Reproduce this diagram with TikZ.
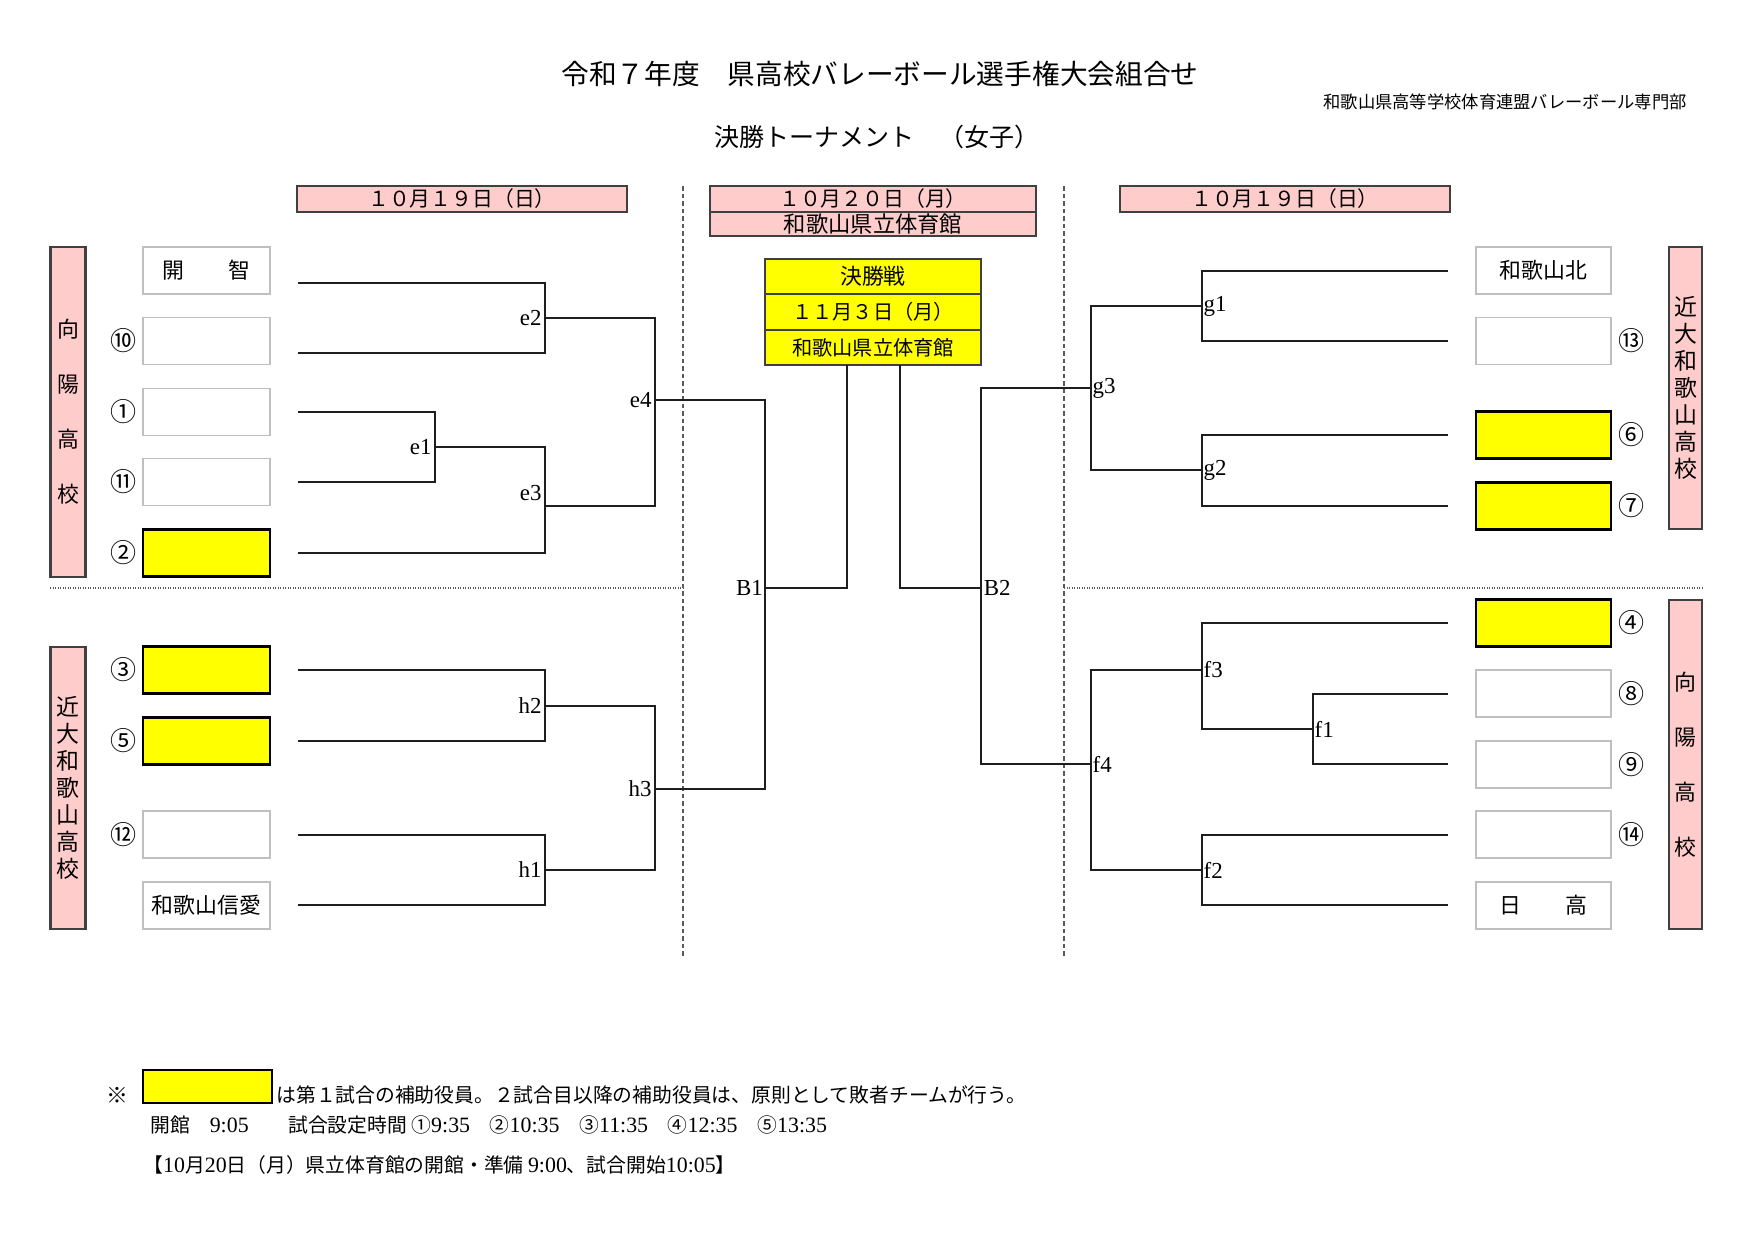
\documentclass[tikz,border=0pt]{standalone}
\usepackage{fontspec}
\setmainfont{Liberation Serif}
\newfontfamily\jp{Noto Sans CJK JP}
\definecolor{pinkf}{RGB}{255,204,204}
\definecolor{yelf}{RGB}{255,255,0}
\definecolor{boxgray}{RGB}{191,191,191}
\definecolor{edge}{RGB}{64,64,64}
\definecolor{linec}{RGB}{30,30,30}
\definecolor{dashc}{RGB}{90,90,90}
\begin{document}
\begin{tikzpicture}[x=0.48pt,y=-0.48pt,
  teambox/.style={draw=boxgray,line width=0.6pt,fill=white,minimum width={#1*0.48pt},minimum height={47*0.48pt},inner sep=0pt,font=\jp\fontsize{10.5}{12}\selectfont},
  teambox/.default=127,
  yelbox/.style={teambox=#1,draw=black,fill=yelf,line width=1.4pt},
  yelbox/.default=127,
  pinkv/.style 2 args={draw=edge,line width=1pt,fill=pinkf,minimum width={#1*0.48pt},minimum height={#2*0.48pt},inner sep=0pt,align=center},
  datebox/.style={draw=edge,line width=0.9pt,fill=pinkf,minimum width={330*0.48pt},minimum height={26*0.48pt},inner sep=0pt,font=\jp\fontsize{10}{12}\selectfont},
  finbox/.style={draw=edge,line width=0.9pt,fill=yelf,minimum width={216*0.48pt},minimum height={35.3*0.48pt},inner sep=0pt,font=\jp\fontsize{9.7}{12}\selectfont},
  cnum/.style={font=\jp\fontsize{12.5}{14}\selectfont,inner sep=0pt},
  lbl/.style={font=\fontsize{11}{13}\selectfont,inner sep=1.5pt},
  rlbl/.style={font=\fontsize{11}{13}\selectfont,inner sep=0.6pt,anchor=west},
  brk/.style={draw=linec,line width=0.75pt},
  vdash/.style={draw=dashc,line width=0.6pt,dash pattern=on 2.2pt off 1.4pt},
  hdot/.style={draw=dashc,line width=0.6pt,dash pattern=on 0.6pt off 0.6pt},
  note/.style={font=\fontsize{9.5}{11}\selectfont,inner sep=0pt,anchor=west},
  lat/.style={}
]
\fill[white] (0,0) rectangle (1755,1241);
\useasboundingbox (0,0) rectangle (1755,1241);

% headings
\node[font=\jp\fontsize{13.3}{15}\selectfont,inner sep=0pt] (title) at (880,74) {令和７年度　県高校バレーボール選手権大会組合せ};
\node[font=\jp\fontsize{8.3}{10}\selectfont,inner sep=0pt,anchor=east] (org) at (1687,102) {和歌山県高等学校体育連盟バレーボール専門部};
\node[font=\jp\fontsize{12}{14}\selectfont,inner sep=0pt] (sub) at (877,137) {決勝トーナメント　（女子）};

% date boxes
\node[datebox] (d1) at (462,199) {１０月１９日（日）};
\node[datebox,minimum width={326*0.48pt}] (d2) at (873,199) {１０月２０日（月）};
\node[datebox,minimum width={326*0.48pt},minimum height={24*0.48pt},font=\jp\fontsize{10.7}{12}\selectfont] (d2b) at (873,224) {和歌山県立体育館};
\node[datebox] (d3) at (1285,199) {１０月１９日（日）};

% dashed separators
\coordinate (v1t) at (683,186); \coordinate (v1b) at (683,957);
\coordinate (v2t) at (1064,186); \coordinate (v2b) at (1064,957);
\coordinate (hla) at (50,588); \coordinate (hlb) at (683,588);
\coordinate (hra) at (1064,588); \coordinate (hrb) at (1702,588);
\draw[vdash] (v1t) -- (v1b);
\draw[vdash] (v2t) -- (v2b);
\draw[hdot] (hla) -- (hlb);
\draw[hdot] (hra) -- (hrb);

% final box
\node[finbox,font=\jp\fontsize{10.5}{12}\selectfont] (fa) at (873,276.6) {決勝戦};
\node[finbox] (fb) at (873,312) {１１月３日（月）};
\node[finbox] (fc) at (873,347.4) {和歌山県立体育館};

% pink school boxes
\node[pinkv={35}{330},font=\jp\fontsize{10.5}{26.4}\selectfont] (pl1) at (68,412) {向\\陽\\高\\校};
\node[pinkv={35}{282},font=\jp\fontsize{11}{13}\selectfont] (pl2) at (68,788) {近\\大\\和\\歌\\山\\高\\校};
\node[pinkv={33}{282},font=\jp\fontsize{11}{13}\selectfont] (pr1) at (1685.5,388) {近\\大\\和\\歌\\山\\高\\校};
\node[pinkv={33}{329},font=\jp\fontsize{10.5}{26.4}\selectfont] (pr2) at (1685.5,764.5) {向\\陽\\高\\校};

% left teams
\node[teambox] (lA) at (206.5,270.5) {開　　智};
\node[teambox] (lB) at (206.5,341) {};
\node[teambox] (lC) at (206.5,412) {};
\node[teambox] (lD) at (206.5,482) {};
\node[yelbox] (lE) at (206.5,553) {};
\node[yelbox] (lF) at (206.5,670) {};
\node[yelbox] (lG) at (206.5,741) {};
\node[teambox] (lH) at (206.5,834.5) {};
\node[teambox] (lI) at (206.5,905.5) {和歌山信愛};

\node[cnum] (cl10) at (124,341) {⑩};
\node[cnum] (cl1) at (124,412) {①};
\node[cnum] (cl11) at (124,482) {⑪};
\node[cnum] (cl2) at (124,553) {②};
\node[cnum] (cl3) at (124,670) {③};
\node[cnum] (cl5) at (124,741) {⑤};
\node[cnum] (cl12) at (124,834.5) {⑫};

% right teams
\node[teambox=135] (rA) at (1543.5,270.5) {和歌山北};
\node[teambox=135] (rB) at (1543.5,341) {};
\node[yelbox=135] (rC) at (1543.5,435) {};
\node[yelbox=135] (rD) at (1543.5,506) {};
\node[yelbox=135] (rE) at (1543.5,623) {};
\node[teambox=135] (rF) at (1543.5,693.5) {};
\node[teambox=135] (rG) at (1543.5,764.5) {};
\node[teambox=135] (rH) at (1543.5,834.5) {};
\node[teambox=135] (rI) at (1543.5,905.5) {日　　高};

\node[cnum] (cr13) at (1632,341) {⑬};
\node[cnum] (cr6) at (1632,435) {⑥};
\node[cnum] (cr7) at (1632,506) {⑦};
\node[cnum] (cr4) at (1632,623) {④};
\node[cnum] (cr8) at (1632,693.5) {⑧};
\node[cnum] (cr9) at (1632,764.5) {⑨};
\node[cnum] (cr14) at (1632,834.5) {⑭};

% left bracket coordinates
\coordinate (la1) at (298,283);
\coordinate (la2) at (298,353);
\coordinate (la3) at (298,412);
\coordinate (la4) at (298,482);
\coordinate (la5) at (298,553);
\coordinate (la6) at (298,670);
\coordinate (la7) at (298,741);
\coordinate (la8) at (298,835);
\coordinate (la9) at (298,905);
\coordinate (e1) at (435,447);
\coordinate (e2) at (545,318);
\coordinate (e3) at (545,506);
\coordinate (e4) at (655,400);
\coordinate (h2) at (545,706);
\coordinate (h1) at (545,870);
\coordinate (h3) at (655,789);
\coordinate (B1) at (765,588);
\coordinate (fl) at (847,365);

\draw[brk] (la1) -| (e2) |- (la2);
\draw[brk] (la3) -| (e1) |- (la4);
\draw[brk] (e1) -| (e3) |- (la5);
\draw[brk] (e2) -| (e4) |- (e3);
\draw[brk] (la6) -| (h2) |- (la7);
\draw[brk] (la8) -| (h1) |- (la9);
\draw[brk] (h2) -| (h3) |- (h1);
\draw[brk] (e4) -| (B1) |- (h3);
\draw[brk] (B1) -| (fl);

\node[lbl,anchor=east] (le1) at (e1) {e1};
\node[lbl,anchor=east] (le2) at (e2) {e2};
\node[lbl,anchor=east] (le3) at ([yshift=6.2pt]e3) {e3};
\node[lbl,anchor=east] (le4) at (e4) {e4};
\node[lbl,anchor=east] (lh1) at (h1) {h1};
\node[lbl,anchor=east] (lh2) at (h2) {h2};
\node[lbl,anchor=east] (lh3) at (h3) {h3};
\node[lbl,anchor=east,inner sep=0.8pt] (lB1) at (B1) {B1};

% right bracket coordinates
\coordinate (ra1) at (1448,271);
\coordinate (ra2) at (1448,341);
\coordinate (ra3) at (1448,435);
\coordinate (ra4) at (1448,506);
\coordinate (ra5) at (1448,623);
\coordinate (ra6) at (1448,694);
\coordinate (ra7) at (1448,764);
\coordinate (ra8) at (1448,835);
\coordinate (ra9) at (1448,905);
\coordinate (g1) at (1202,306);
\coordinate (g2) at (1202,470);
\coordinate (g3) at (1091,388);
\coordinate (f1) at (1313,729);
\coordinate (f3) at (1202,670);
\coordinate (f2) at (1202,870);
\coordinate (f4) at (1091,764);
\coordinate (B2) at (981,588);
\coordinate (fr) at (900,365);

\draw[brk] (ra1) -| (g1) |- (ra2);
\draw[brk] (ra3) -| (g2) |- (ra4);
\draw[brk] (g1) -| (g3) |- (g2);
\draw[brk] (ra6) -| (f1) |- (ra7);
\draw[brk] (ra5) -| (f3) |- (f1);
\draw[brk] (ra8) -| (f2) |- (ra9);
\draw[brk] (f3) -| (f4) |- (f2);
\draw[brk] (g3) -| (B2) |- (f4);
\draw[brk] (B2) -| (fr);

\node[rlbl] (lg1) at (g1) {g1};
\node[rlbl] (lg2) at (g2) {g2};
\node[rlbl] (lg3) at (g3) {g3};
\node[rlbl] (lf1) at (f1) {f1};
\node[rlbl] (lf2) at (f2) {f2};
\node[rlbl] (lf3) at (f3) {f3};
\node[rlbl] (lf4) at (f4) {f4};
\node[rlbl,inner sep=1.2pt] (lB2) at (B2) {B2};

% notes
\node[font=\jp\fontsize{10.5}{12}\selectfont,inner sep=0pt] (kome) at (117,1095) {※};
\node[yelbox=129,minimum height={33*0.48pt}] (leg) at (207.5,1086.5) {};
\node[note] (n1) at (276,1095) {\jp は第１試合の補助役員。２試合目以降の補助役員は、原則として敗者チームが行う。};
\node[note] (n2) at (150,1125) {{\jp 開館　}{\fontsize{10.5}{11}\selectfont 9:05}{\jp 　　試合設定時間 ①}{\fontsize{10.5}{11}\selectfont 9:35}{\jp 　②}{\fontsize{10.5}{11}\selectfont 10:35}{\jp 　③}{\fontsize{10.5}{11}\selectfont 11:35}{\jp 　④}{\fontsize{10.5}{11}\selectfont 12:35}{\jp 　⑤}{\fontsize{10.5}{11}\selectfont 13:35}};
\node[note] (n3) at (143,1165) {{\jp 【}{\fontsize{10.5}{11}\selectfont 10}{\jp 月}{\fontsize{10.5}{11}\selectfont 20}{\jp 日（月）県立体育館の開館・準備 }{\fontsize{10.5}{11}\selectfont 9:00}{\jp 、試合開始}{\fontsize{10.5}{11}\selectfont 10:05}{\jp 】}};
\end{tikzpicture}
\end{document}
